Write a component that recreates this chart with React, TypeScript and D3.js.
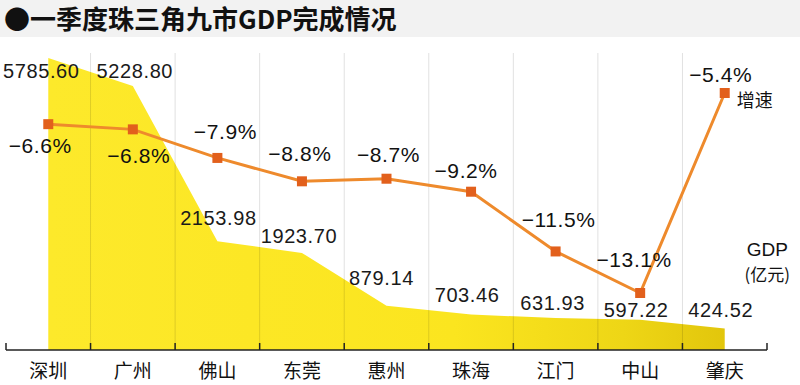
import React, { useRef, useEffect } from 'react';
import * as d3 from 'd3';

const cities = ['深圳', '广州', '佛山', '东莞', '惠州', '珠海', '江门', '中山', '肇庆'];
const gdp = [5785.6, 5228.8, 2153.98, 1923.7, 879.14, 703.46, 631.93, 597.22, 424.52];
const growth = [-6.6, -6.8, -7.9, -8.8, -8.7, -9.2, -11.5, -13.1, -5.4];

// label nudges (dx, dy) relative to the point they belong to
const growthLabelOffset = [[-8, 29], [6, 34], [8, -19], [-2, -20], [2, -17], [-5, -14], [3, -24], [-6, -26], [-4, -11]];
const gdpLabelOffset = [[-7, 20], [2, -8], [1, -16], [-3, -10], [-5, -21], [-4, -12], [-3, -8], [-4, -3], [-4, -12]];

const W = 800;
const H = 385;
const numFont = '"Liberation Sans", Arial, sans-serif';
const cjkFont = '"Noto Sans CJK SC", sans-serif';

export default function App() {
  const svgRef = useRef<SVGSVGElement>(null);

  useEffect(() => {
    const svg = d3.select(svgRef.current);
    svg.selectAll('*').remove();

    const x = d3.scaleBand<string>().domain(cities).range([6, 767]).paddingInner(0).paddingOuter(0);
    const cx = (i: number) => (x(cities[i]) as number) + x.bandwidth() / 2;
    const yGdp = d3.scaleLinear().domain([0, d3.max(gdp) as number]).range([350, 58]);
    const yRate = d3.scaleLinear().domain([d3.min(growth) as number, d3.max(growth) as number]).range([293, 93]);

    // title bar
    svg.append('rect').attr('x', 0).attr('y', 0).attr('width', W).attr('height', 37).attr('fill', '#f2f2f2');
    svg.append('text')
      .attr('x', 4).attr('y', 29)
      .attr('font-family', cjkFont).attr('font-weight', 'bold').attr('font-size', 26)
      .attr('fill', '#111')
      .text('●一季度珠三角九市GDP完成情况');

    // yellow area
    const grad = svg.append('defs').append('linearGradient')
      .attr('id', 'gdpFill').attr('x1', '0%').attr('x2', '100%').attr('y1', '0%').attr('y2', '0%');
    grad.append('stop').attr('offset', '0%').attr('stop-color', '#fde92b');
    grad.append('stop').attr('offset', '60%').attr('stop-color', '#fbe51f');
    grad.append('stop').attr('offset', '85%').attr('stop-color', '#eed616');
    grad.append('stop').attr('offset', '100%').attr('stop-color', '#e2c60c');

    const area = d3.area<number>()
      .x((_, i) => cx(i))
      .y0(350)
      .y1(d => yGdp(d));
    svg.append('path').datum(gdp).attr('d', area).attr('fill', 'url(#gdpFill)');

    // grid lines between cities
    cities.slice(1).forEach(c => {
      svg.append('line')
        .attr('x1', x(c) as number).attr('x2', x(c) as number)
        .attr('y1', 53).attr('y2', 350)
        .attr('stroke', '#000').attr('stroke-opacity', 0.12).attr('stroke-width', 1);
    });

    // axis
    const axis = svg.append('g');
    axis.append('line').attr('x1', 6).attr('x2', 767).attr('y1', 350).attr('y2', 350)
      .attr('stroke', '#222').attr('stroke-width', 1.5);
    const bounds = cities.map(c => x(c) as number).concat([767]);
    bounds.forEach(b => {
      axis.append('line').attr('x1', b).attr('x2', b).attr('y1', 350).attr('y2', 343)
        .attr('stroke', '#222').attr('stroke-width', 1.5);
    });
    cities.forEach((c, i) => {
      axis.append('text')
        .attr('x', cx(i)).attr('y', 378)
        .attr('text-anchor', 'middle')
        .attr('font-family', cjkFont).attr('font-size', 19).attr('fill', '#111')
        .text(c);
    });

    // GDP labels
    gdp.forEach((v, i) => {
      svg.append('text')
        .attr('x', cx(i) + gdpLabelOffset[i][0])
        .attr('y', yGdp(v) + gdpLabelOffset[i][1])
        .attr('text-anchor', 'middle')
        .attr('font-family', numFont).attr('font-size', 20).attr('letter-spacing', 0.6)
        .attr('fill', '#1a1a1a')
        .text(v.toFixed(2));
    });

    // growth line
    const line = d3.line<number>().x((_, i) => cx(i)).y(d => yRate(d));
    svg.append('path').datum(growth).attr('d', line)
      .attr('fill', 'none').attr('stroke', '#ee8a2c').attr('stroke-width', 3);
    growth.forEach((v, i) => {
      svg.append('rect')
        .attr('x', cx(i) - 5).attr('y', yRate(v) - 5)
        .attr('width', 10).attr('height', 10)
        .attr('fill', '#e2601c');
    });
    growth.forEach((v, i) => {
      svg.append('text')
        .attr('x', cx(i) + growthLabelOffset[i][0])
        .attr('y', yRate(v) + growthLabelOffset[i][1])
        .attr('text-anchor', 'middle')
        .attr('font-family', numFont).attr('font-size', 21).attr('letter-spacing', 0.6)
        .attr('fill', '#111')
        .text('−' + Math.abs(v).toFixed(1) + '%');
    });

    // series notes
    const last = growth.length - 1;
    svg.append('text')
      .attr('x', cx(last) + 12).attr('y', yRate(growth[last]) + 14)
      .attr('font-family', cjkFont).attr('font-size', 18).attr('fill', '#111')
      .text('增速');
    svg.append('text')
      .attr('x', 788).attr('y', 256).attr('text-anchor', 'end')
      .attr('font-family', numFont).attr('font-size', 19).attr('fill', '#111')
      .text('GDP');
    svg.append('text')
      .attr('x', 790).attr('y', 281).attr('text-anchor', 'end')
      .attr('font-family', cjkFont).attr('font-size', 17).attr('fill', '#111')
      .text('(亿元)');
  }, []);

  return (
    <svg ref={svgRef} width={W} height={H}
      style={{ position: 'absolute', left: 0, top: 0, background: '#fff' }} />
  );
}
